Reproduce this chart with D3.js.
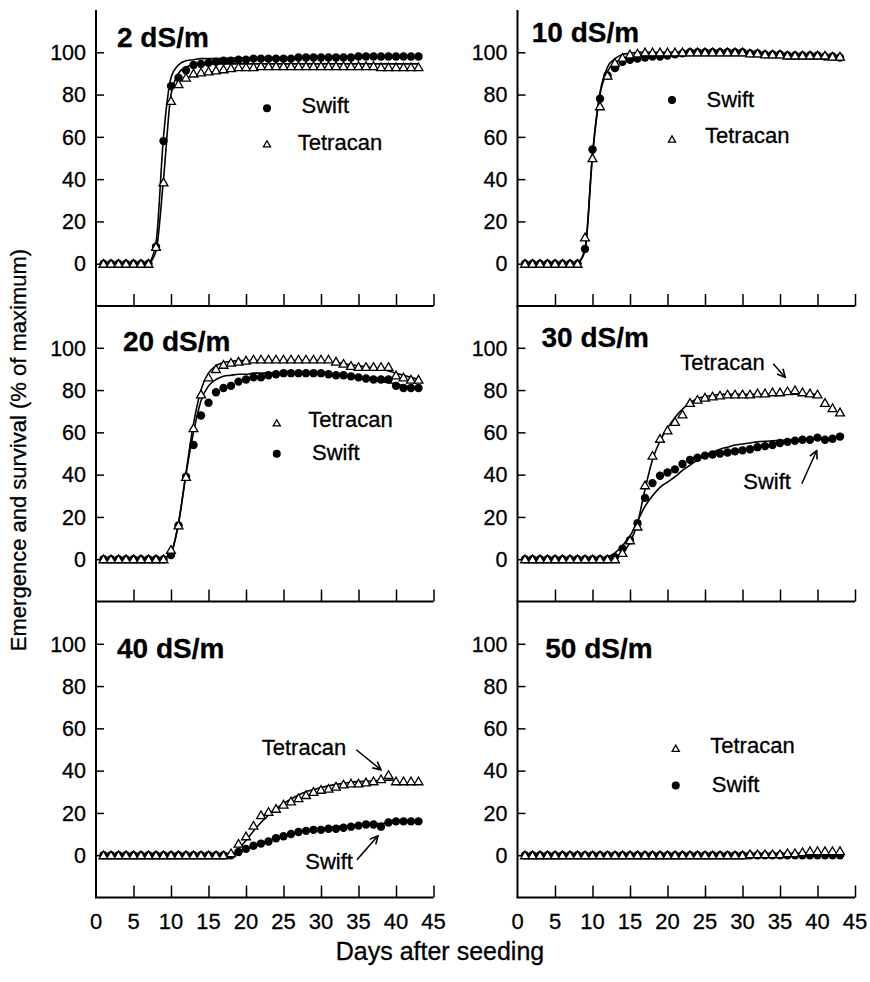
<!DOCTYPE html>
<html>
<head>
<meta charset="utf-8">
<script src="https://cdn.jsdelivr.net/npm/d3@7"></script>
<style>
  body { margin: 0; background: #fff; }
  text { font-family: "Liberation Sans", Arial, sans-serif; fill: #000; stroke: #000; stroke-width: 0.3px; }
</style>
</head>
<body>
<script>
// days after seeding
var days = [1,2,3,4,5,6,7,8,9,10,11,12,13,14,15,16,17,18,19,20,21,22,23,24,25,26,27,28,29,30,31,32,33,34,35,36,37,38,39,40,41,42,43];

// 2 dS/m
var swift2    = [0,0,0,0,0,0,0,8,58,84,88,91.5,94,94.5,95,95.5,96,96,96.5,96.5,97,97,97,97,97,97,97.5,97.5,97.5,97.5,97.5,97.5,97.5,97.5,98,98,98,98,98,98,98,98,98];
var tetra2    = [0,0,0,0,0,0,0,8,38.5,77,85,88,90,90.5,91,91.5,92,92.5,93,93,93,93.5,93.5,93.5,93.5,93.5,93.5,93.5,93.5,93.5,93.5,93.5,93.5,93.5,93.5,93.5,93.5,93,93,93,93,93,93];
var swiftFit2 = [0,0,0,0,0,0,0.5,10,60,88,94,96,96.5,97,97,97,97,97.2,97.3,97.4,97.5,97.5,97.5,97.5,97.5,97.5,97.5,97.5,97.5,97.5,97.5,97.5,97.5,97.5,97.5,97.5,97.5,97.5,97.5,97.5,97.5,97.5,97.5];
var tetraFit2 = [0,0,0,0,0,0,0.3,6,40,80,90,93,94,94.5,94.5,94.5,94.5,94.5,94.5,94.5,94.5,94.5,94.5,94.5,94.5,94.5,94.5,94.5,94.5,94.5,94.5,94.5,94.5,94.5,94.5,94.5,94.5,94.5,94.5,94.5,94.5,94.5,94.5];

// 10 dS/m
var swift10    = [0,0,0,0,0,0,0,0,7,54,78,89,92.5,95.5,96.5,97,97.5,98,98,98.5,99,99.5,100,100,100,100,100,100,100,100,99.5,99.5,99,99,99,98.5,98.5,98.5,98.5,98.5,98,98,97.5];
var tetra10    = [0,0,0,0,0,0,0,0,12.5,50,74.5,89,95,97.5,99,99.5,100,100,100,100,100,100,100,100,100,100,100,100,100,100,99.5,99.5,99,99,99,98.5,98.5,98.5,98.5,98.5,98.5,98,98];
var swiftFit10 = [0,0,0,0,0,0,0,0.5,6,51,80,91,95,97,98,98.5,99,99,99.3,99.5,99.7,99.8,100,100,100,100,100,100,100,100,99.8,99.6,99.4,99.2,99,98.9,98.8,98.7,98.6,98.5,98.4,98.3,98.2];
var tetraFit10 = [0,0,0,0,0,0,0,0.5,7,52,81,93,97,99,99.5,100,100,100,100,100,100,100,100,100,100,100,100,100,100,100,99.8,99.6,99.4,99.2,99,98.9,98.8,98.7,98.6,98.5,98.4,98.3,98.2];

// 20 dS/m
var swift20    = [0,0,0,0,0,0,0,0,0,2,16,39,54,68,74,79,81,82,84,85,86,86,87,87.5,88,88,88,88,88,88,87.5,87,87,86.5,86,85.5,85,85,85,82,81,81,81];
var tetra20    = [0,0,0,0,0,0,0,0,0,4.5,16,39,62,78,86,90,92,93,93.5,94,94.5,94.5,94.5,94.5,94.5,94.5,94.5,94.5,94.5,94.5,94.5,93.5,92.5,91.5,91,91,91,91,91,87,86,85,85];
var swiftFit20 = [0,0,0,0,0,0,0,0,0.5,3,17,40,60,75,82,85,86.5,87,87.5,87.5,88,88,88,88,88,88,88,88,88,88,87.5,87,86.5,86,85.5,85,84.5,84,83.5,83,82,81.5,81];
var tetraFit20 = [0,0,0,0,0,0,0,0,0.5,3,17,41,64,80,88,91.5,93,93.5,94,94,94,94,94,94,94,94,94,94,94,94,93.5,93,92.5,92,91.5,91,90.5,90,89,88,87,86,85];

// 30 dS/m
var swift30    = [0,0,0,0,0,0,0,0,0,0,0,0,1,5,9,17,29,36,39.5,41,42.5,45,47,48,49,49.5,50,50.5,51,51.5,52,53,53.5,54,55,55.5,56,56.5,56.5,57.5,56.5,57,58];
var tetra30    = [0,0,0,0,0,0,0,0,0,0,0,0,0,3,9,15.5,35,49,57,61,65,68.5,74,75.5,76.5,77,77.5,78,78,78,78,78.5,78.5,79,79,79.5,80,79,78.5,78,74,71.5,69.5];
var swiftFit30 = [0,0,0,0,0,0,0,0,0,0,0,1,3,6.5,11,18,25,30,34,36.5,39,42,44.5,47,49,50.5,52,53,54,54.5,55,55.5,55.8,56,56.2,56.4,56.5,56.7,56.8,57,null,null,null];
var tetraFit30 = [0,0,0,0,0,0,0,0,0,0,0,0,1,3,8,17,33,47,56,62,67,71,74,76,77,77.5,78,78,78,78,78,78,78,78,78,78,78,78,78,78,null,null,null];

// 40 dS/m
var swift40    = [0,0,0,0,0,0,0,0,0,0,0,0,0,0,0,0,0,0,1.5,3,4.5,5.5,6.5,8,9,10,11,11.5,12,12,12.5,12.5,13,13.5,14,14.5,14.5,13.5,15.5,16,16,16,16];
var tetra40    = [0,0,0,0,0,0,0,0,0,0,0,0,0,0,0,0,0,1,5.5,9,14,19,20.5,22,24,25.5,27,28.5,30,31,31.5,32.5,33.5,34,34,34.5,35,36,38,35,35,35,35];
var swiftFit40 = [0,0,0,0,0,0,0,0,0,0,0,0,0,0,0,0,0,0,1,2.5,4,5.5,7,8,9,10,11,11.5,12,12.5,13,13.5,13.8,14,14.3,14.5,14.8,15,15.2,15.5,null,null,null];
var tetraFit40 = [0,0,0,0,0,0,0,0,0,0,0,0,0,0,0,0,0,0,3,7,11.5,15.5,19,22,24.5,26.5,28.5,30,31,32,32.8,33.5,34,34.5,34.8,35,35.2,35.4,35.5,35.5,null,null,null];

// 50 dS/m
var swift50    = [0,0,0,0,0,0,0,0,0,0,0,0,0,0,0,0,0,0,0,0,0,0,0,0,0,0,0,0,0,0,0,0,0,0,0,0,0,0,0,0,0,0,0];
var tetra50    = [0,0,0,0,0,0,0,0,0,0,0,0,0,0,0,0,0,0,0,0,0,0,0,0,0,0,0,0,0,0,0.5,0.5,0.5,0.5,0.5,1,1,1.5,2,2,2,2,2];
var swiftFit50 = [0,0,0,0,0,0,0,0,0,0,0,0,0,0,0,0,0,0,0,0,0,0,0,0,0,0,0,0,0,0,0,0,0,0,0,0,0,0,0,0,0,0,0];
var tetraFit50 = [0,0,0,0,0,0,0,0,0,0,0,0,0,0,0,0,0,0,0,0,0,0,0,0,0,0,0,0,0,0,0,0,0,0,0,0,0,0,0,0,0,0,0];

var yTicks = [0, 20, 40, 60, 80, 100];
var xTicks = [0, 5, 10, 15, 20, 25, 30, 35, 40, 45];

var width = 870,
    height = 982,
    pw = 337.5,
    ph = 296,
    colX = [96, 517.5],
    rowY = [10, 305.5, 601.5];

var panels = [
  { title: "2 dS/m", col: 0, row: 0, swift: swift2, tetra: tetra2, swiftFit: swiftFit2, tetraFit: tetraFit2,
    titleAt: [2.8, 102.6],
    legend: [{ sym: "dot", at: [22.8, 73.5], text: "Swift", textAt: [27.4, 71.1] },
             { sym: "tri", at: [22.8, 56.2], text: "Tetracan", textAt: [26.9, 53.8] }] },
  { title: "10 dS/m", col: 1, row: 0, swift: swift10, tetra: tetra10, swiftFit: swiftFit10, tetraFit: tetraFit10,
    titleAt: [1.9, 105],
    legend: [{ sym: "dot", at: [20.6, 77.4], text: "Swift", textAt: [25.2, 74.3] },
             { sym: "tri", at: [20.6, 58.5], text: "Tetracan", textAt: [25, 57] }] },
  { title: "20 dS/m", col: 0, row: 1, swift: swift20, tetra: tetra20, swiftFit: swiftFit20, tetraFit: tetraFit20,
    titleAt: [3.6, 98.7],
    legend: [{ sym: "tri", at: [24.1, 64], text: "Tetracan", textAt: [28.3, 62.4] },
             { sym: "dot", at: [24.1, 49.9], text: "Swift", textAt: [28.8, 47] }] },
  { title: "30 dS/m", col: 1, row: 1, swift: swift30, tetra: tetra30, swiftFit: swiftFit30, tetraFit: tetraFit30,
    titleAt: [3.2, 100.3],
    notes: [{ text: "Tetracan", textAt: [21.7, 89.3], from: [34.1, 92.4], to: [35.7, 86] },
            { text: "Swift", textAt: [30.1, 33.3], from: [37.9, 35.7], to: [39.9, 51.4] }] },
  { title: "40 dS/m", col: 0, row: 2, swift: swift40, tetra: tetra40, swiftFit: swiftFit40, tetraFit: tetraFit40,
    titleAt: [2.8, 93.2],
    notes: [{ text: "Tetracan", textAt: [22.1, 47.5], from: [34.7, 49.9], to: [38.0, 40.4] },
            { text: "Swift", textAt: [27.9, -6.4], from: [34.8, -2.2], to: [37.6, 9.2] }] },
  { title: "50 dS/m", col: 1, row: 2, swift: swift50, tetra: tetra50, swiftFit: swiftFit50, tetraFit: tetraFit50,
    titleAt: [3.7, 93.2],
    legend: [{ sym: "tri", at: [21.1, 50.1], text: "Tetracan", textAt: [25.7, 48.3] },
             { sym: "dot", at: [21.1, 33], text: "Swift", textAt: [25.9, 29.8] }] }
];

var x = d3.scaleLinear().domain([0, 45]).range([0, pw]);
var y = d3.scaleLinear().domain([-20, 120]).range([ph, 0]);

var line = d3.line()
    .defined(function(d) { return d[1] != null; })
    .x(function(d) { return x(d[0]); })
    .y(function(d) { return y(d[1]); })
    .curve(d3.curveMonotoneX);

var tri = d3.symbol().type(d3.symbolTriangle).size(34);
var triSmall = d3.symbol().type(d3.symbolTriangle).size(22);

var svg = d3.select("body").append("svg")
    .attr("width", width)
    .attr("height", height);

svg.append("defs").append("marker")
    .attr("id", "arrow")
    .attr("viewBox", "0 0 10 10")
    .attr("refX", 9).attr("refY", 5)
    .attr("markerWidth", 10).attr("markerHeight", 10)
    .attr("markerUnits", "userSpaceOnUse")
    .attr("orient", "auto")
  .append("path")
    .attr("d", "M1,1 L9,5 L1,9")
    .attr("fill", "none")
    .attr("stroke", "#000")
    .attr("stroke-width", 1.6);

function pairs(vals) {
  return days.map(function(d, i) { return [d, vals[i]]; });
}

panels.forEach(function(p) {
  var g = svg.append("g")
      .attr("transform", "translate(" + colX[p.col] + "," + rowY[p.row] + ")");

  // y axis: ticks pointing inward
  var yAxis = d3.axisRight(y).tickValues(yTicks).tickSize(8).tickFormat("");
  g.append("g").call(yAxis)
      .call(function(a) { a.select(".domain").remove(); })
      .selectAll("line").attr("stroke-width", 1.5);
  g.append("line")
      .attr("x1", 0).attr("x2", 0)
      .attr("y1", 0).attr("y2", ph)
      .attr("stroke", "#000").attr("stroke-width", 2);
  g.selectAll(".ylab")
      .data(yTicks)
    .enter().append("text")
      .attr("class", "ylab")
      .attr("x", -10)
      .attr("y", function(d) { return y(d); })
      .attr("dy", "0.36em")
      .attr("text-anchor", "end")
      .style("font-size", "21.5px")
      .text(function(d) { return d; });

  // x axis: ticks pointing up
  var xAxis = d3.axisTop(x).tickValues(xTicks.slice(1)).tickSize(12).tickFormat("");
  g.append("g")
      .attr("transform", "translate(0," + ph + ")")
      .call(xAxis)
      .call(function(a) { a.select(".domain").remove(); })
      .selectAll("line").attr("stroke-width", 1.5);
  g.append("line")
      .attr("x1", -1).attr("x2", pw)
      .attr("y1", ph).attr("y2", ph)
      .attr("stroke", "#000").attr("stroke-width", 2);

  if (p.row === 2) {
    g.selectAll(".xlab")
        .data(xTicks)
      .enter().append("text")
        .attr("class", "xlab")
        .attr("x", function(d) { return x(d); })
        .attr("y", ph + 31)
        .attr("text-anchor", "middle")
        .style("font-size", "22px")
        .text(function(d) { return d; });
  }

  // fitted curves
  [p.swiftFit, p.tetraFit].forEach(function(f) {
    g.append("path")
        .datum(pairs(f))
        .attr("d", line)
        .attr("fill", "none")
        .attr("stroke", "#000")
        .attr("stroke-width", 1.6);
  });

  // Swift: filled circles
  g.selectAll(".swift")
      .data(pairs(p.swift))
    .enter().append("circle")
      .attr("class", "swift")
      .attr("cx", function(d) { return x(d[0]); })
      .attr("cy", function(d) { return y(d[1]); })
      .attr("r", 4.2)
      .attr("fill", "#000");

  // Tetracan: open triangles
  g.selectAll(".tetra")
      .data(pairs(p.tetra))
    .enter().append("path")
      .attr("class", "tetra")
      .attr("d", tri)
      .attr("transform", function(d) { return "translate(" + x(d[0]) + "," + (y(d[1]) + 1) + ")"; })
      .attr("fill", "#fff")
      .attr("stroke", "#000")
      .attr("stroke-width", 1.3);

  // panel title
  g.append("text")
      .attr("x", x(p.titleAt[0]))
      .attr("y", y(p.titleAt[1]))
      .style("font-size", "28px")
      .style("font-weight", "bold")
      .text(p.title);

  // legend
  (p.legend || []).forEach(function(l) {
    if (l.sym === "dot") {
      g.append("circle")
          .attr("cx", x(l.at[0])).attr("cy", y(l.at[1]))
          .attr("r", 4).attr("fill", "#000");
    } else {
      g.append("path")
          .attr("d", triSmall)
          .attr("transform", "translate(" + x(l.at[0]) + "," + y(l.at[1]) + ")")
          .attr("fill", "#fff").attr("stroke", "#000").attr("stroke-width", 1.3);
    }
    g.append("text")
        .attr("x", x(l.textAt[0]))
        .attr("y", y(l.textAt[1]))
        .style("font-size", "22px")
        .text(l.text);
  });

  // arrow annotations
  (p.notes || []).forEach(function(n) {
    g.append("text")
        .attr("x", x(n.textAt[0]))
        .attr("y", y(n.textAt[1]))
        .style("font-size", "22px")
        .text(n.text);
    g.append("line")
        .attr("x1", x(n.from[0])).attr("y1", y(n.from[1]))
        .attr("x2", x(n.to[0])).attr("y2", y(n.to[1]))
        .attr("stroke", "#000").attr("stroke-width", 1.5)
        .attr("marker-end", "url(#arrow)");
  });
});

// axis titles
svg.append("text")
    .attr("transform", "translate(26,450) rotate(-90)")
    .attr("text-anchor", "middle")
    .style("font-size", "22px")
    .text("Emergence and survival (% of maximum)");

svg.append("text")
    .attr("x", 440)
    .attr("y", 960)
    .attr("text-anchor", "middle")
    .style("font-size", "25px")
    .text("Days after seeding");
</script>
</body>
</html>
